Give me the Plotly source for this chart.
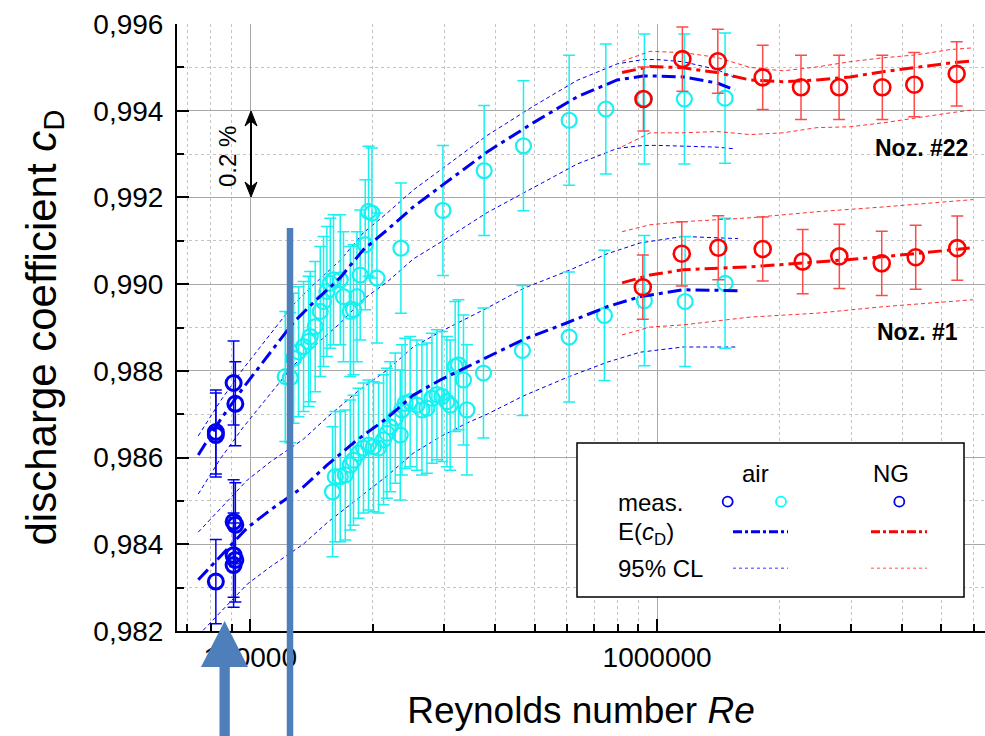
import plotly.graph_objects as go

# ---------------- data ----------------
# Nozzle #22 (upper group) -------------------------------------------------
n22_blue_re = [82300, 82300, 91000, 91900]
n22_blue_cd = [0.98659, 0.98652, 0.98772, 0.98724]

n22_cyan_re = [121900, 125400, 127800, 131400, 135200, 139100, 140400, 144400, 148600,
               151400, 154300, 157300, 160200, 166400, 169500, 176100, 179400, 182900,
               186300, 191700, 195300, 199100, 204800, 234600, 297500, 375800, 469400,
               607900, 748200, 930700, 1167000, 1469000]
n22_cyan_cd = [0.98787, 0.98784, 0.98829, 0.98844, 0.98856, 0.98868, 0.98879, 0.98902, 0.98937,
               0.98960, 0.98983, 0.99002, 0.99010, 0.99010, 0.98971, 0.98937, 0.98941, 0.98971,
               0.99021, 0.99091, 0.99168, 0.99164, 0.99014, 0.99083, 0.99170, 0.99262, 0.99319,
               0.99378, 0.99404, 0.99427, 0.99427, 0.99429]

n22_red_re = [925500, 1154000, 1410000, 1818000, 2258000, 2801000, 3578000, 4287000, 5450000]
n22_red_cd = [0.99427, 0.99519, 0.99514, 0.99477, 0.99454, 0.99454, 0.99454, 0.99460, 0.99485]

n22_air_fit_re = [74500, 84400, 96100, 127500, 142800, 166400, 189500, 217000, 251500, 304800,
                  382200, 495800, 636000, 797700, 923900, 1000000, 1158000, 1404000, 1555000]
n22_air_fit = [0.98606, 0.98687, 0.98761, 0.98911, 0.98957, 0.99015, 0.99079, 0.99125, 0.99178, 0.99236,
               0.99305, 0.99372, 0.99432, 0.99471, 0.99480, 0.99480, 0.99478, 0.99464, 0.99448]
n22_air_up = [0.98650, 0.98730, 0.98805, 0.98952, 0.98998, 0.99055, 0.99118, 0.99164, 0.99217, 0.99275,
              0.99343, 0.99410, 0.99470, 0.99508, 0.99518, 0.99518, 0.99513, 0.99495, 0.99476]
n22_air_lo = [0.98516, 0.98597, 0.98670, 0.98812, 0.98855, 0.98910, 0.98965, 0.99005, 0.99058, 0.99106,
              0.99165, 0.99222, 0.99277, 0.99313, 0.99320, 0.99320, 0.99318, 0.99316, 0.99312]

ng_fit_re = [820300, 961200, 1158000, 1404000, 1692000, 2040000, 2472000, 2980000, 3593000,
             4354000, 5248000, 5975000]
n22_ng_fit = [0.99488, 0.99502, 0.99499, 0.99488, 0.99471, 0.99467, 0.99471, 0.99478, 0.99490,
              0.99501, 0.99510, 0.99515]
n22_ng_up = [0.99514, 0.99537, 0.99534, 0.99523, 0.99500, 0.99492, 0.99501, 0.99513, 0.99522,
             0.99529, 0.99541, 0.99545]
n22_ng_lo = [0.99317, 0.99349, 0.99349, 0.99352, 0.99345, 0.99349, 0.99361, 0.99363, 0.99372,
             0.99384, 0.99395, 0.99402]

# Nozzle #1 (lower group) --------------------------------------------------
n1_blue_re = [82300, 91000, 91900, 91000, 91900, 91000]
n1_blue_cd = [0.98314, 0.98452, 0.98445, 0.98375, 0.98364, 0.98352]

n1_cyan_re = [159300, 161800, 166400, 171200, 176100, 179400, 184500, 189800, 195300, 200900,
              206700, 212600, 216700, 220800, 227200, 233700, 235900, 240300, 247200, 256800,
              264200, 271800, 279600, 287600, 295800, 304300, 310000, 318900, 324900, 334300,
              340800, 374300, 466700, 607900, 742200, 930700, 1172000, 1469000]
n1_cyan_cd = [0.98521, 0.98556, 0.98556, 0.98560, 0.98583, 0.98594, 0.98610, 0.98622, 0.98629, 0.98625,
              0.98622, 0.98641, 0.98656, 0.98671, 0.98691, 0.98652, 0.98710, 0.98725, 0.98729, 0.98721,
              0.98710, 0.98714, 0.98737, 0.98745, 0.98741, 0.98729, 0.98721, 0.98810, 0.98814, 0.98779,
              0.98710, 0.98795, 0.98847, 0.98878, 0.98928, 0.98962, 0.98960, 0.99002]

n1_red_re = [922300, 1150000, 1414000, 1818000, 2280000, 2805000, 3566000, 4322000, 5468000]
n1_red_cd = [0.98993, 0.99070, 0.99084, 0.99081, 0.99052, 0.99064, 0.99048, 0.99062, 0.99083]

n1_air_fit_re = [74500, 84400, 98300, 112000, 134900, 154600, 183300, 217000, 251500, 293000,
                 341400, 382200, 468700, 601000, 753900, 908100, 1158000, 1581000]
n1_air_fit = [0.98318, 0.98371, 0.98438, 0.98479, 0.98532, 0.98583, 0.98641, 0.98691, 0.98744, 0.98779,
              0.98809, 0.98832, 0.98872, 0.98911, 0.98948, 0.98971, 0.98987, 0.98985]
n1_air_up = [0.98428, 0.98481, 0.98548, 0.98590, 0.98642, 0.98693, 0.98752, 0.98802, 0.98855, 0.98890,
             0.98922, 0.98945, 0.98990, 0.99030, 0.99070, 0.99095, 0.99110, 0.99105]
n1_air_lo = [0.98190, 0.98243, 0.98308, 0.98348, 0.98400, 0.98450, 0.98505, 0.98558, 0.98610, 0.98648,
             0.98680, 0.98700, 0.98742, 0.98785, 0.98820, 0.98843, 0.98855, 0.98855]

n1_ng_fit_re = [820300, 961200, 1158000, 1692000, 2472000, 3593000, 5975000]
n1_ng_fit = [0.99003, 0.99021, 0.99033, 0.99040, 0.99051, 0.99063, 0.99084]
n1_ng_up = [0.99121, 0.99137, 0.99144, 0.99153, 0.99167, 0.99178, 0.99195]
n1_ng_lo = [0.98883, 0.98901, 0.98906, 0.98924, 0.98933, 0.98948, 0.98964]

# uncertainties (half-length of error bars)
err_blue = 0.00097
err_cyan = 0.0015
err_red = 0.00074

x_ticks = [1e5, 1e6]
x_ticklabels = ["100000", "1000000"]
x_minor = [7e4, 8e4, 9e4, 2e5, 3e5, 4e5, 5e5, 6e5, 7e5, 8e5, 9e5,
           2e6, 3e6, 4e6, 5e6, 6e6]

# ---------------- styling ----------------
FONT = "Liberation Sans, Arial, sans-serif"
BLUE = "#0000f0"
CYAN = "#19f0f0"
RED = "#ff0000"
W, H = 985, 736
L, R, T, B = 177, 0, 24, 105
PW, PH = W - L - R, H - T - B


def px(x):
    return (x - L) / PW


def py(y):
    return (H - B - y) / PH


fig = go.Figure()


def add_line(x, y, color, width, dash):
    fig.add_trace(go.Scatter(x=x, y=y, mode="lines", showlegend=False, hoverinfo="skip",
                             line=dict(color=color, width=width, dash=dash)))


def add_pts(x, y, err, color, lw, size, errcolor):
    fig.add_trace(go.Scatter(
        x=x, y=y, mode="markers", showlegend=False,
        marker=dict(symbol="circle-open", size=size, color=color, line=dict(width=lw, color=color)),
        error_y=dict(type="constant", value=err, color=errcolor, thickness=1.5, width=6)))


CL_DASH = "4px,3px"
FIT_DASH = "14px,5px,4px,5px"

# blue confidence limits
add_line(n22_air_fit_re, n22_air_up, BLUE, 1, CL_DASH)
add_line(n22_air_fit_re, n22_air_lo, BLUE, 1, CL_DASH)
add_line(n1_air_fit_re, n1_air_up, BLUE, 1, CL_DASH)
add_line(n1_air_fit_re, n1_air_lo, BLUE, 1, CL_DASH)

# cyan measurements
add_pts(n22_cyan_re, n22_cyan_cd, err_cyan, CYAN, 2.2, 15, CYAN)
add_pts(n1_cyan_re, n1_cyan_cd, err_cyan, CYAN, 2.2, 15, CYAN)

# dark-blue measurements
add_pts(n22_blue_re, n22_blue_cd, err_blue, BLUE, 3, 15, BLUE)
add_pts(n1_blue_re, n1_blue_cd, err_blue, BLUE, 3, 15, BLUE)

# blue fits
add_line(n22_air_fit_re, n22_air_fit, BLUE, 3, FIT_DASH)
add_line(n1_air_fit_re, n1_air_fit, BLUE, 3, FIT_DASH)

# red confidence limits and fits
add_line(ng_fit_re, n22_ng_up, "#ff3030", 1, CL_DASH)
add_line(ng_fit_re, n22_ng_lo, "#ff3030", 1, CL_DASH)
add_line(n1_ng_fit_re, n1_ng_up, "#ff3030", 1, CL_DASH)
add_line(n1_ng_fit_re, n1_ng_lo, "#ff3030", 1, CL_DASH)
add_line(ng_fit_re, n22_ng_fit, RED, 3, FIT_DASH)
add_line(n1_ng_fit_re, n1_ng_fit, RED, 3, FIT_DASH)

# red measurements
add_pts(n22_red_re, n22_red_cd, err_red, RED, 2.6, 16, "#ff4a4a")
add_pts(n1_red_re, n1_red_cd, err_red, RED, 2.6, 16, "#ff4a4a")

# ---------------- shapes / annotations ----------------
shapes = []
annotations = []

# hide the top grid line (the reference has none at the upper frame edge)
shapes.append(dict(type="line", xref="paper", yref="paper", x0=px(190), x1=1, y0=1, y1=1,
                   line=dict(color="white", width=2), layer="below"))

# legend box
shapes.append(dict(type="rect", xref="paper", yref="paper", x0=px(577), x1=px(964), y0=py(597), y1=py(443),
                   fillcolor="white", line=dict(color="black", width=1.5), layer="above"))
for cx, col in [(727.7, BLUE), (781, "#00ffff"), (899.3, BLUE)]:
    shapes.append(dict(type="circle", xref="paper", yref="paper", xsizemode="pixel", ysizemode="pixel",
                       xanchor=px(cx), yanchor=py(501.7), x0=-5, x1=5, y0=-5, y1=5,
                       line=dict(color=col, width=1.8), layer="above"))
for x0, x1, col, w, d, yy in [(733, 788, BLUE, 3, "dashdot", 531.7), (871, 927, RED, 3, "dashdot", 531.7),
                              (733, 788, "#7a7aff", 1.5, "dot", 568.3), (871, 927, "#ff8a8a", 1.5, "dot", 568.3)]:
    shapes.append(dict(type="line", xref="paper", yref="paper", x0=px(x0), x1=px(x1), y0=py(yy), y1=py(yy),
                       line=dict(color=col, width=w, dash=d), layer="above"))

# steel-blue marker bar and arrow
SB = "#4f7fbb"
shapes.append(dict(type="line", xref="paper", yref="paper", x0=px(290), x1=px(290), y0=py(228), y1=py(745),
                   line=dict(color=SB, width=6.5), layer="above"))
shapes.append(dict(type="rect", xref="paper", yref="paper", x0=px(219.5), x1=px(229.8), y0=py(745), y1=py(664),
                   fillcolor=SB, line=dict(width=0), layer="above"))
shapes.append(dict(type="path", xref="paper", yref="paper", layer="above",
                   path=f"M {px(201)} {py(667)} L {px(248)} {py(667)} L {px(224.6)} {py(621)} Z",
                   fillcolor=SB, line=dict(width=0)))

# black double-headed arrow marking 0.2 %
shapes.append(dict(type="line", xref="paper", yref="paper", x0=px(251), x1=px(251), y0=py(114), y1=py(194),
                   line=dict(color="black", width=2), layer="above"))
for tip, base, notch in [(111, 126, 121), (197, 182, 187)]:
    shapes.append(dict(type="path", xref="paper", yref="paper", layer="above",
                       path=(f"M {px(251)} {py(tip)} L {px(257)} {py(base)} L {px(251)} {py(notch)} "
                             f"L {px(245)} {py(base)} Z"),
                       fillcolor="black", line=dict(color="black", width=1)))


def text(x, y, s, size, xanchor="center", angle=0, bold=False):
    annotations.append(dict(xref="paper", yref="paper", x=px(x), y=py(y), text=(f"<b>{s}</b>" if bold else s),
                            showarrow=False, xanchor=xanchor, yanchor="middle", textangle=angle,
                            font=dict(family=FONT, size=size, color="black")))


text(755, 473, "air", 24)
text(891, 473, "NG", 24)
text(616, 502, "meas.", 24, "left")
text(616, 533, "E(<i>c</i><sub>D</sub>)", 24, "left")
text(616, 568, "95% CL", 24, "left")
text(921, 148, "Noz. #22", 23, bold=True)
text(875, 332, "Noz. #1", 23, "left", bold=True)
text(227, 157, "0.2 %", 24, angle=-90)

fig.update_layout(
    width=W, height=H, autosize=False,
    margin=dict(l=L, r=R, t=T, b=B, pad=0),
    paper_bgcolor="white", plot_bgcolor="white",
    separators=", ",
    font=dict(family=FONT, color="black"),
    shapes=shapes, annotations=annotations,
    xaxis=dict(type="log", range=[4.8199, 6.806], tickmode="array", tickvals=x_ticks, ticktext=x_ticklabels,
               showline=True, linecolor="black", linewidth=2, ticks="inside", ticklen=12, tickwidth=2,
               tickcolor="black", showgrid=True, gridcolor="#a8a8a8", gridwidth=1.3, zeroline=False,
               tickfont=dict(size=28, family=FONT, color="black"),
               title=dict(text="Reynolds number <i>Re</i>", font=dict(size=37, family=FONT, color="black"),
                          standoff=26),
               minor=dict(tickmode="array", tickvals=x_minor, ticks="inside", ticklen=7, tickwidth=2,
                          tickcolor="black", showgrid=True, gridcolor="#c4c4c4", griddash="dot", gridwidth=1)),
    yaxis=dict(range=[0.982, 0.996], tickmode="linear", tick0=0.982, dtick=0.002, tickformat=".3f",
               showline=True, linecolor="black", linewidth=2, ticks="inside", ticklen=12, tickwidth=2,
               tickcolor="black", showgrid=True, gridcolor="#a8a8a8", gridwidth=1.3, zeroline=False,
               tickfont=dict(size=28, family=FONT, color="black"), ticklabelstandoff=6,
               title=dict(text="discharge coefficient <i>c</i><sub>D</sub>",
                          font=dict(size=42, family=FONT, color="black"), standoff=24),
               minor=dict(dtick=0.001, ticks="inside", ticklen=7, tickwidth=2, tickcolor="black",
                          showgrid=True, gridcolor="#c4c4c4", griddash="dot", gridwidth=1)),
)

fig.write_html("out.html")
